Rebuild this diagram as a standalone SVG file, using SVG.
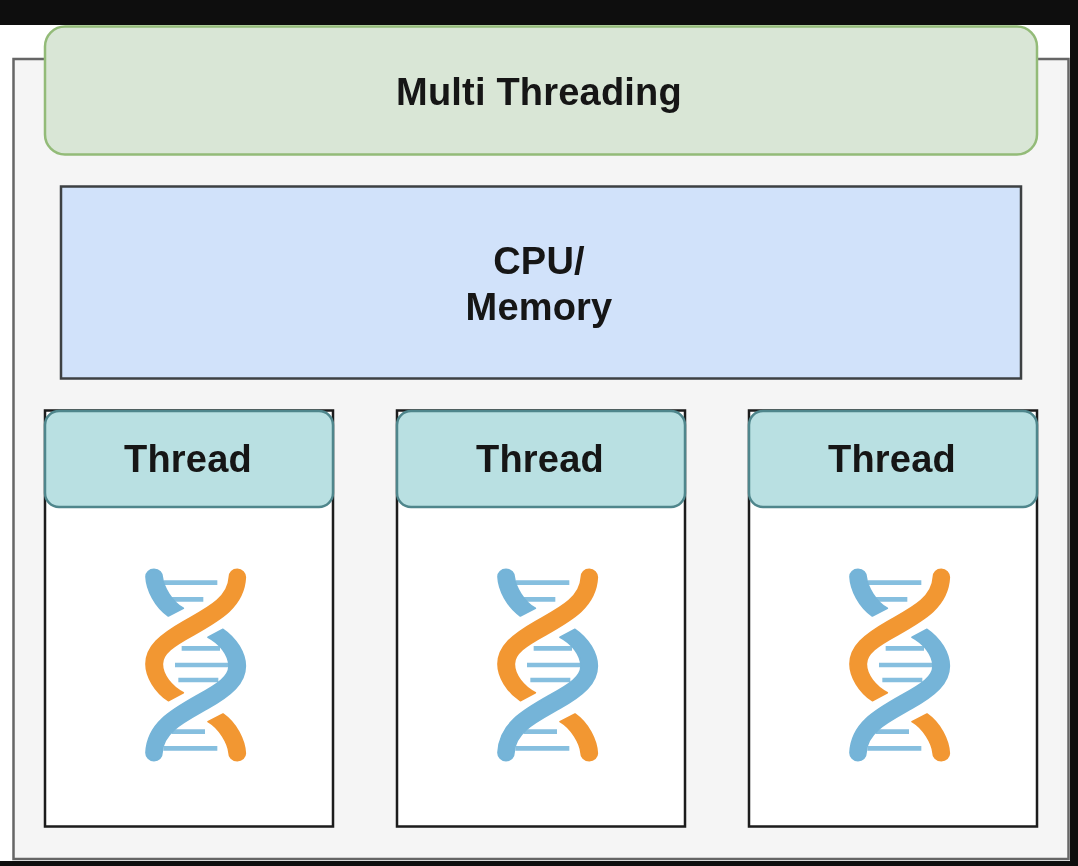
<svg xmlns="http://www.w3.org/2000/svg" width="1078" height="866" viewBox="0 0 1078 866">
<style>
.t{font-family:"Liberation Sans",Arial,sans-serif;font-weight:700;font-size:38px;letter-spacing:.2px;fill:#141414;text-anchor:middle}
.body{fill:#fff;stroke:#1a1a1a;stroke-width:2.500}
.head{fill:#b9e0e2;stroke:#4f868c;stroke-width:2.500}
.or{fill:#f29733;stroke:#f29733;stroke-width:5;stroke-linejoin:round}
.bl{fill:#74b4d8;stroke:#74b4d8;stroke-width:5;stroke-linejoin:round}
.r{stroke:#86bfdf;stroke-width:14;fill:none}
</style>
<defs>
<filter id="soft" x="0" y="0" width="100%" height="100%"><feGaussianBlur stdDeviation="0.5"/></filter>
<path id="short" d="M72 28C88 28 97 40 97 52C100 80 125 125 160 145L115 168C75 140 50 90 48 50C48 38 58 28 72 28Z"/>
<path id="long" d="M322 28C336 28 346 40 346 52C342 140 270 180 190 225C130 258 97 280 97 312C97 345 125 380 160 398L115 422C75 395 48 350 48 312C48 260 90 225 160 185C230 145 295 115 298 52C298 38 308 28 322 28Z"/>
<g id="dna" transform="translate(130 560) scale(.3333)">
<path class="r" d="M100 68H262M115 118H220M155 265H270M135 315H300M145 360H265M125 515H225M100 565H262"/>
<use href="#short" class="bl"/>
<use href="#long" class="bl" transform="rotate(180 197 315)"/>
<use href="#long" class="or"/>
<use href="#short" class="or" transform="rotate(180 197 315)"/>
</g>
</defs>
<rect width="1078" height="866" fill="#0e0e0e"/>
<g filter="url(#soft)">
<rect x="0" y="25" width="1070" height="836" fill="#fff"/>
<g id="frame"><rect x="13.500" y="59" width="1055" height="800" fill="#f5f5f5" stroke="#666" stroke-width="2.500"/></g>
<g id="title"><rect x="45" y="26.500" width="992" height="128" rx="20" fill="#d9e6d6" stroke="#93bb78" stroke-width="2.500"/><text class="t" x="539" y="105">Multi Threading</text></g>
<g id="cpu"><rect x="61" y="186.500" width="960" height="192" fill="#d1e2fa" stroke="#3c4043" stroke-width="2.500"/><text class="t" x="539" y="274">CPU/</text><text class="t" x="539" y="320">Memory</text></g>
<g id="thread1"><rect class="body" x="45" y="410.500" width="288" height="416"/><rect class="head" x="45" y="411" width="288" height="96" rx="14"/><text class="t" x="188" y="472">Thread</text><use href="#dna"/></g>
<g id="thread2"><rect class="body" x="397" y="410.500" width="288" height="416"/><rect class="head" x="397" y="411" width="288" height="96" rx="14"/><text class="t" x="540" y="472">Thread</text><use href="#dna" x="352"/></g>
<g id="thread3"><rect class="body" x="749" y="410.500" width="288" height="416"/><rect class="head" x="749" y="411" width="288" height="96" rx="14"/><text class="t" x="892" y="472">Thread</text><use href="#dna" x="704"/></g>
<g id="connectors"/>
</g>
</svg>
